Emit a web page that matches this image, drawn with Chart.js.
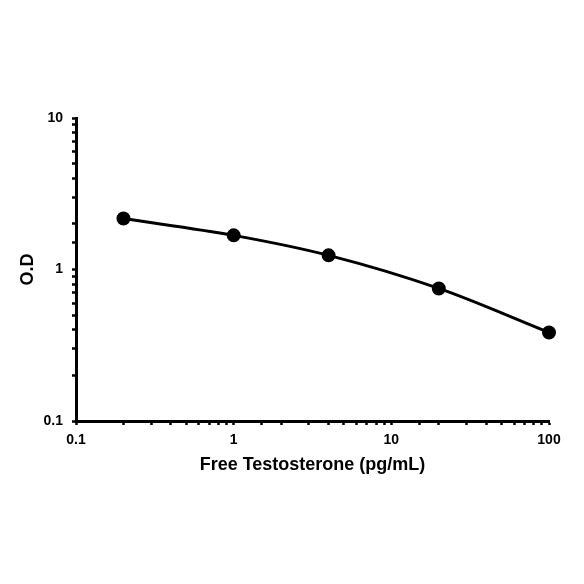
<!DOCTYPE html>
<html>
<head>
<meta charset="utf-8">
<script src="https://cdn.jsdelivr.net/npm/chart.js@4.4.0/dist/chart.umd.min.js"></script>
<style>
html,body{margin:0;padding:0;background:#fff;}
#wrap{width:584px;height:584px;}
</style>
</head>
<body>
<div id="wrap"><canvas id="c" width="584" height="584"></canvas></div>
<script>
const concentrations = [0.2, 1, 4, 20, 100];
const odValues = [2.17, 1.68, 1.24, 0.75, 0.384];
const xTickLabels = [0.1, 1, 10, 100];
const yTickLabels = [0.1, 1, 10];

const points = concentrations.map((x, i) => ({x: x, y: odValues[i]}));
const font = {family: '"Liberation Sans", Arial, sans-serif', weight: 'bold'};

function labelFor(list) {
  return function(v) {
    for (const t of list) { if (Math.abs(v - t) / t < 1e-6) return String(t); }
    return '';
  };
}

new Chart(document.getElementById('c'), {
  type: 'line',
  data: {
    datasets: [{
      data: points,
      borderColor: '#000',
      backgroundColor: '#000',
      borderWidth: 3,
      pointRadius: 5.5,
      pointHoverRadius: 5.5,
      tension: 0.4,
      cubicInterpolationMode: 'monotone',
      fill: false,
      clip: false
    }]
  },
  options: {
    responsive: false,
    animation: false,
    devicePixelRatio: 1,
    layout: {padding: {left: 17, right: 35, top: 118, bottom: 108}},
    plugins: {legend: {display: false}, tooltip: {enabled: false}},
    scales: {
      x: {
        type: 'logarithmic',
        min: 0.1, max: 100,
        border: {display: true, color: '#000', width: 3},
        grid: {drawOnChartArea: false, color: '#000', tickLength: 4, tickWidth: 2.5},
        ticks: {
          autoSkip: false, maxRotation: 0, padding: 7,
          color: '#000', font: Object.assign({size: 14}, font),
          callback: labelFor(xTickLabels)
        },
        title: {display: true, text: 'Free Testosterone (pg/mL)', color: '#000',
                font: Object.assign({size: 18}, font), padding: 0},
        afterFit: function(s) { s.height = 55; }
      },
      y: {
        type: 'logarithmic',
        min: 0.1, max: 10,
        border: {display: true, color: '#000', width: 3},
        grid: {drawOnChartArea: false, color: '#000', tickLength: 4, tickWidth: 2.5},
        ticks: {
          autoSkip: false, padding: 9,
          color: '#000', font: Object.assign({size: 14}, font),
          callback: labelFor(yTickLabels)
        },
        title: {display: true, text: 'O.D', color: '#000',
                font: Object.assign({size: 18}, font), padding: 0},
        afterFit: function(s) { s.width = 59; }
      }
    }
  }
});
</script>
</body>
</html>
